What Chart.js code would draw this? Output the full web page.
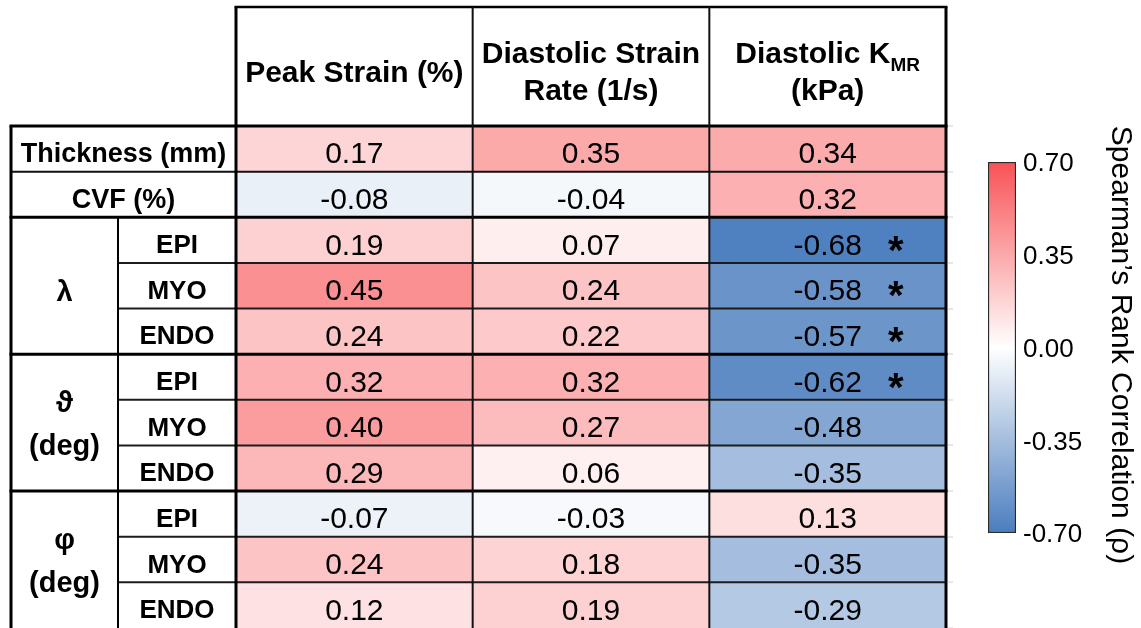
<!DOCTYPE html>
<html>
<head>
<meta charset="utf-8">
<script src="https://cdn.jsdelivr.net/npm/chart.js@4.4.1/dist/chart.umd.min.js"></script>
<style>
  html, body { margin: 0; padding: 0; background: #fff; }
  #wrap { position: relative; width: 1141px; height: 628px; overflow: hidden; }
  #wrap canvas { position: absolute; left: 0; top: 0; }
</style>
</head>
<body>
<div id="wrap">
  <canvas id="table" width="1141" height="628"></canvas>
  <canvas id="scale" width="1141" height="628"></canvas>
</div>
<script>
// Rows of the correlation table (top to bottom)
const rowKeys = ['Thickness (mm)', 'CVF (%)',
  'λ EPI', 'λ MYO', 'λ ENDO',
  'ϑ EPI', 'ϑ MYO', 'ϑ ENDO',
  'φ EPI', 'φ MYO', 'φ ENDO'];
const rowLabels = ['Thickness (mm)', 'CVF (%)',
  'EPI', 'MYO', 'ENDO',
  'EPI', 'MYO', 'ENDO',
  'EPI', 'MYO', 'ENDO'];
const groupLabels = [['λ'], ['ϑ', '(deg)'], ['φ', '(deg)']];
const groupFirstRow = [2, 5, 8];
const groupRowCount = 3;

// Column headers ("_" marks a subscript)
const columnHeaders = [['Peak Strain (%)'], ['Diastolic Strain', 'Rate (1/s)'], ['Diastolic K_MR', '(kPa)']];

// Spearman's rho per column
const peakStrain          = [0.17, -0.08, 0.19, 0.45, 0.24, 0.32, 0.40, 0.29, -0.07, 0.24, 0.12];
const diastolicStrainRate = [0.35, -0.04, 0.07, 0.24, 0.22, 0.32, 0.27, 0.06, -0.03, 0.18, 0.19];
const diastolicKmr        = [0.34, 0.32, -0.68, -0.58, -0.57, -0.62, -0.48, -0.35, 0.13, -0.35, -0.29];
const kmrSignificant      = [false, false, true, true, true, true, false, false, false, false, false];

// Colour bar
const colorbarTicks = [0.70, 0.35, 0.00, -0.35, -0.70];
const colorbarTitle = 'Spearman’s Rank Correlation (ρ)';

const FONT = "'Liberation Sans', Arial, Helvetica, sans-serif";
const RED = [248, 82, 85], MID = [255, 255, 255], BLUE = [74, 125, 190];
const RANGE = Math.max(...colorbarTicks.map(Math.abs));

function heat(v) {
  const t = Math.max(-1, Math.min(1, v / RANGE));
  const end = t >= 0 ? RED : BLUE;
  const a = Math.abs(t);
  const c = MID.map((m, i) => Math.round(m + (end[i] - m) * a));
  return `rgb(${c[0]},${c[1]},${c[2]})`;
}

const columns = [peakStrain, diastolicStrainRate, diastolicKmr];
const columnStars = [null, null, kmrSignificant];

// Table frame, labels and cell values
const tableText = {
  id: 'tableText',
  afterDatasetsDraw(chart) {
    const { ctx, chartArea: a, scales: { x, y } } = chart;
    const n = rowKeys.length;
    const rh = (a.bottom - a.top) / n;
    const mid = i => y.getPixelForValue(i);
    const colX = c => x.getPixelForValue(c);
    const LEFT = 11, SUB = 118, TOP = 7;
    const x0 = colX(0), x3 = colX(columns.length);

    ctx.save();
    const line = (x1, y1, x2, y2, w, col) => {
      ctx.beginPath();
      ctx.lineWidth = w;
      ctx.strokeStyle = col || '#000';
      ctx.moveTo(x1, y1);
      ctx.lineTo(x2, y2);
      ctx.stroke();
    };

    // faint sheet gridline stubs to the right of the table
    for (let i = 0; i <= n; i++) {
      const yy = Math.round(a.top + i * rh);
      line(x3 + 2, yy, x3 + 7, yy, 1, '#cfcfcf');
    }

    // row separators
    for (let i = 1; i < n; i++) {
      const yy = a.top + i * rh;
      const inGroup = groupFirstRow.some(g => i > g && i < g + groupRowCount);
      if (inGroup) {
        line(SUB, yy, x3, yy, 2, '#1c1c1c');
      } else if (i === 1) {
        line(LEFT, yy, x3, yy, 2, '#111');
      } else {
        line(LEFT - 1.5, yy, x3 + 1.5, yy, 3, '#000');
      }
    }
    // header frame
    line(x0 - 1.5, TOP, x3 + 1.5, TOP, 2.5);
    line(LEFT - 1.5, a.top, x3 + 1.5, a.top, 3);
    for (let c = 0; c <= columns.length; c++) {
      const outer = c === 0 || c === columns.length;
      line(colX(c), TOP, colX(c), a.bottom + 2, outer ? 3 : 2, outer ? '#000' : '#111');
    }
    line(LEFT, a.top, LEFT, a.bottom + 2, 3);
    line(SUB, a.top + groupFirstRow[0] * rh, SUB, a.bottom + 2, 2);

    ctx.fillStyle = '#000';
    ctx.textBaseline = 'alphabetic';

    // column headers
    columnHeaders.forEach((lines, c) => {
      const cx = (colX(c) + colX(c + 1)) / 2;
      const baselines = lines.length === 1 ? [82] : [62.5, 100];
      lines.forEach((txt, k) => {
        const [main, sub] = txt.split('_');
        ctx.font = `bold 30px ${FONT}`;
        const wMain = ctx.measureText(main).width;
        let wSub = 0;
        if (sub) { ctx.font = `bold 19px ${FONT}`; wSub = ctx.measureText(sub).width; }
        const left = cx - (wMain + wSub) / 2;
        ctx.textAlign = 'left';
        ctx.font = `bold 30px ${FONT}`;
        ctx.fillText(main, left, baselines[k]);
        if (sub) {
          ctx.font = `bold 19px ${FONT}`;
          ctx.fillText(sub, left + wMain, baselines[k] + 8.5);
        }
      });
    });

    // row labels
    ctx.textAlign = 'center';
    rowLabels.forEach((txt, i) => {
      const grouped = groupFirstRow.some(g => i >= g && i < g + groupRowCount);
      if (grouped) {
        ctx.font = `bold 26px ${FONT}`;
        ctx.fillText(txt, (SUB + x0) / 2, mid(i) + 13);
      } else {
        ctx.font = `bold 27px ${FONT}`;
        ctx.fillText(txt, (LEFT + x0) / 2, mid(i) + 13.5);
      }
    });
    groupLabels.forEach((lines, g) => {
      const cy = mid(groupFirstRow[g] + (groupRowCount - 1) / 2);
      const baselines = lines.length === 1 ? [cy + 15.5] : [cy - 11, cy + 32.5];
      ctx.font = `bold 29px ${FONT}`;
      lines.forEach((txt, k) => ctx.fillText(txt, (LEFT + SUB) / 2, baselines[k]));
    });

    // cell values
    columns.forEach((vals, c) => {
      const cx = (colX(c) + colX(c + 1)) / 2;
      vals.forEach((v, i) => {
        ctx.font = `30px ${FONT}`;
        ctx.textAlign = 'center';
        ctx.fillText(v.toFixed(2), cx, mid(i) + 14.5);
        const stars = columnStars[c];
        if (stars && stars[i]) {
          ctx.font = `bold 40px ${FONT}`;
          const m = ctx.measureText('*');
          const inkMid = (m.actualBoundingBoxDescent - m.actualBoundingBoxAscent) / 2;
          ctx.fillText('*', cx + 68, mid(i) + 3.5 - inkMid);
        }
      });
    });
    ctx.restore();
  }
};

new Chart(document.getElementById('table'), {
  type: 'bar',
  data: {
    labels: rowKeys,
    datasets: columns.map((vals, c) => ({
      label: columnHeaders[c].join(' ').replace('_', ''),
      data: vals.map(() => [c, c + 1]),
      backgroundColor: vals.map(heat),
      borderWidth: 0,
      grouped: false,
      barPercentage: 1,
      categoryPercentage: 1
    }))
  },
  options: {
    indexAxis: 'y',
    responsive: false,
    animation: false,
    events: [],
    layout: { padding: { left: 236, right: 195, top: 126, bottom: 0 } },
    scales: {
      x: { type: 'linear', min: 0, max: columns.length, display: false },
      y: { type: 'category', display: false }
    },
    plugins: { legend: { display: false }, tooltip: { enabled: false } }
  },
  plugins: [tableText]
});

// Colour bar with its tick labels and title
const colorbarText = {
  id: 'colorbarText',
  afterDatasetsDraw(chart) {
    const { ctx, chartArea: a, scales: { y } } = chart;
    ctx.save();
    ctx.fillStyle = '#000';
    ctx.font = `26px ${FONT}`;
    ctx.textAlign = 'left';
    ctx.textBaseline = 'alphabetic';
    colorbarTicks.forEach(v => {
      ctx.fillText(v.toFixed(2), a.right + 7, y.getPixelForValue(v) + 9.3);
    });
    ctx.translate(1112, (120 + 570) / 2);
    ctx.rotate(Math.PI / 2);
    ctx.font = `30px ${FONT}`;
    ctx.textAlign = 'center';
    ctx.fillText(colorbarTitle, 0, 0);
    ctx.restore();
  }
};

new Chart(document.getElementById('scale'), {
  type: 'bar',
  data: {
    labels: ['ρ'],
    datasets: [{
      data: [[Math.min(...colorbarTicks), Math.max(...colorbarTicks)]],
      backgroundColor(context) {
        const area = context.chart.chartArea;
        if (!area) return '#fff';
        const g = context.chart.ctx.createLinearGradient(0, area.top, 0, area.bottom);
        g.addColorStop(0, `rgb(${RED.join(',')})`);
        g.addColorStop(0.5, `rgb(${MID.join(',')})`);
        g.addColorStop(1, `rgb(${BLUE.join(',')})`);
        return g;
      },
      borderColor: '#2a2a2a',
      borderWidth: 1.5,
      borderSkipped: false,
      barPercentage: 1,
      categoryPercentage: 1
    }]
  },
  options: {
    responsive: false,
    animation: false,
    events: [],
    layout: { padding: { left: 988, right: 1141 - 1016, top: 162, bottom: 628 - 533 } },
    scales: {
      x: { display: false },
      y: { display: false, min: Math.min(...colorbarTicks), max: Math.max(...colorbarTicks) }
    },
    plugins: { legend: { display: false }, tooltip: { enabled: false } }
  },
  plugins: [colorbarText]
});
</script>
</body>
</html>
